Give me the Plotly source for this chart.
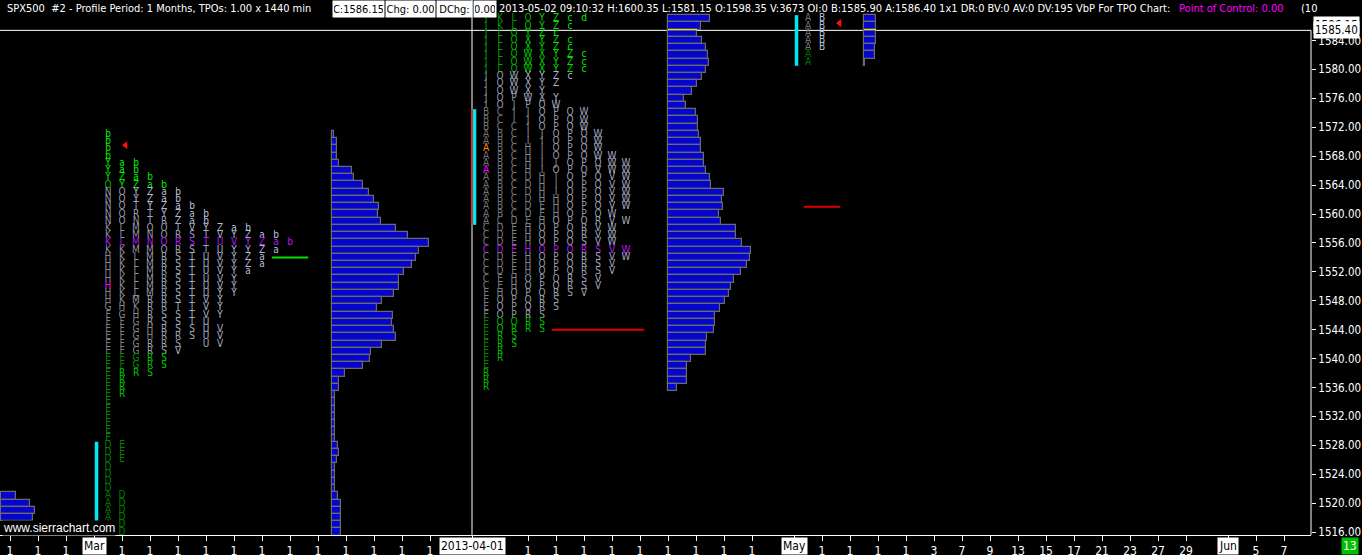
import plotly.graph_objects as go

# ------------------------------------------------------------------ data
LETTERS = "ABCDEFGHIJKLMNOPQRSTUVWXYZabcd"

# March 2013 profile: TPO columns (top row = mar_top, one char per 1.00 price row)
mar_top = 1571
mar_cols = [
    "bbbbYYYONNNNNKKKKHHHHHHHGFF" "EEEEEEEEEEEEEEEE" "DDDDDDD" "AAAAAA",
    "    aaZYOOOOOLLLKKKKKKKKHGFFFFFFFRRRR      EEE    DDDDDD",
    "    bbaZYYTRNMMMMLLLLLLMKHGGGGGGGR",
    "      baZZYTTONNMMMMMMMRRRRHHRRRRS",
    "       baaZYROOOORRRRRRRRSSRRRSSS",
    "        bbaZZTRRRSSSSSSSTSSSRSV",
    "          baaVSSSTTTTTTTTTTSS",
    "           bbYTTTUUUUUUVVVUUUU",
    "             ZVUUVVVVVYYYY VVV",
    "             aYVYYYYYYY",
    "             bZYYZZa",
    "              aZZaa",
    "              baa",
    "               b",
]
mar_va = (1541, 1563)
mar_poc = 1556
mar_ib = (1518, 1528)
mar_ref = 1554
mar_arrow = 1569.5
mar_marks = [(1550, 0, "#ff00ff")]
mar_vp = [2, 5, 5, 5, 7, 20, 22, 31, 37, 42, 47, 46, 49, 64, 76, 97, 87, 84, 80, 72,
          67, 67, 62, 50, 45, 61, 60, 62, 64, 50, 39, 38, 31, 13, 7, 7, 3, 3, 3, 3,
          3, 3, 3, 6, 7, 5, 3, 3, 3, 3, 6, 9, 9, 9, 9, 9]

# April 2013 profile: TPO rows (top row = apr_top)
apr_top = 1587
apr_rows = [
    "JKLOYZcd", "JKLOYZc", "JLOYZc", "JLOXYZc", "JLOXYZc", "JLOWXYZc", "JLOWXYZc",
    "JLOWXYZc", "JOWXYZc", "JOWXYZ", "JOWXY", "JOPWXY", "IOJPQW", "BCIJOPQW",
    "BCIJOPQW", "BCCIOPQW", "ABCIJOPQW", "ABCIIOPQW", "ABCHIOPQW", "ABCHIOPQWW",
    "ABCHIJOPQWW", "ABCHIOPQVWW", "ABCDHIOPQVW", "ABCDHIOPQVW", "ABCDHIOPQVW",
    "ABCDHHOPQVW", "ABCDEHOPQVW", "ABCDEHOPQW", "ACDEHOPQRVW", "CDEHOPQRVW",
    "CDEHOPQRVW", "CDEHOPQSVW", "CDEHOPQRSVW", "CDEHOPQRSVW", "CDEHOPQRSV",
    "CDEHOPQRSV", "CEHOPQRSV", "CEHOPQRSV", "EHOPQRSV", "EOPQRS", "EOPQRS",
    "EOPRS", "EOQRS", "EQRRS", "ERS", "ERS", "ER", "ER", "E", "R", "R", "R",
]
apr_va = (1546, 1579)
apr_poc = 1555
apr_ib = (1559, 1574)
apr_ref = 1544
apr_marks = [(1569, 0, "#ff8c00"), (1566, 0, "#ff00ff")]
apr_vp = [42, 33, 29, 34, 38, 40, 41, 38, 34, 29, 24, 16, 18, 28, 30, 30, 31, 33, 33, 36,
          36, 38, 42, 43, 56, 54, 55, 51, 53, 68, 68, 74, 83, 82, 79, 73, 66, 63, 61, 57,
          52, 47, 47, 46, 39, 38, 38, 23, 19, 19, 19, 9]

# May 2013 profile
may_top = 1587
may_cols = ["AAAAAAA", "BBBBB"]
may_va = (1583, 1587)
may_poc = None
may_ib = (1581, 1587)
may_ref = 1561
may_arrow = 1586.4
may_vp = [12, 12, 12, 12, 11, 11, 1]

# February tail of volume profile
feb_top = 1521
feb_vp = [15, 29, 34, 32]

last_price = 1585.40
close_price = 1586.15

# bar-slot index where each monthly profile starts
mar_start, apr_start, may_start = 7, 34, 57

x_tick_slots = [1, 3, 5, 7, 9, 11, 13, 15, 17, 19, 21, 23, 25, 27, 29, 31, 34, 38, 40, 42,
                44, 46, 48, 50, 52, 54, 57, 59, 61, 63, 65, 67, 69, 71, 73, 75, 77, 79, 81,
                83, 85, 88, 90, 92]
x_tick_labels = ["1", "1", "1", "Mar", "1", "1", "1", "1", "1", "1", "1", "1", "1", "1",
                 "1", "1", "2013-04-01", "1", "1", "1", "1", "1", "1", "1", "1", "1", "May",
                 "1", "1", "1", "1", "3", "7", "9", "13", "15", "17", "21", "23", "27", "29",
                 "Jun", "5", "7"]
boxed_labels = {"Mar", "2013-04-01", "May", "Jun"}
y_ticks = list(range(1516, 1585, 4))

header_parts = [
    ("SPX500\u00a0 #2 - Profile Period: 1 Months, TPOs: 1.00 x 1440 min", None),
    ("C:1586.15", "box"), ("Chg: 0.00", "box"), ("DChg:", "box"), ("0.00", "box"),
    ("2013-05-02 09:10:32 H:1600.35 L:1581.15 O:1598.35 V:3673 OI:0 B:1585.90 "
     "A:1586.40 1x1 DR:0 BV:0 AV:0 DV:195 VbP For TPO Chart:", None),
    ("Point of Control: 0.00", "poc"), ("(10", None),
]

# ------------------------------------------------------------------ style
W, H = 1362, 555
PW, PH = 1311, 535
PX_PER_SLOT = 14
VOL_PER_SLOT = 14.0
X0 = 0.2857
XR = [X0, X0 + PW / PX_PER_SLOT]
YR = [1515.60, 1589.60]
COND = "DejaVu Sans Condensed, Liberation Sans Narrow, sans-serif"
BLUE = "#0505cc"
POC_COL = "#b01cf0"


def mix(a, b, t):
    ca = [int(a[i:i + 2], 16) for i in (1, 3, 5)]
    cb = [int(b[i:i + 2], 16) for i in (1, 3, 5)]
    return "#" + "".join("%02x" % int(round(x + (y - x) * t)) for x, y in zip(ca, cb))


def rows_to_cols(rows):
    n = max(len(r) for r in rows)
    return ["".join(r[j] if j < len(r) else " " for r in rows) for j in range(n)]


def tpo(cols, top, start, va, poc, marks):
    used = [c for col in cols for c in col if c != " "]
    last = max(LETTERS.index(c) for c in used) or 1
    xs, ys, ts, cs = [], [], [], []
    mk = {(p, j): c for p, j, c in marks}
    for j, col in enumerate(cols):
        for i, ch in enumerate(col):
            if ch == " ":
                continue
            p = top - i
            t = LETTERS.index(ch) / last
            if (p, j) in mk:
                c = mk[(p, j)]
            elif poc is not None and p == poc:
                c = POC_COL
            elif p > va[1] or p < va[0]:
                c = mix("#007000", "#00f000", t)
            else:
                c = mix("#727272", "#b8c0dc", t)
            xs.append(start + 1 + j)
            ys.append(p)
            ts.append(ch)
            cs.append(c)
    return xs, ys, ts, cs


def count_at(cols, top, price):
    i = top - price
    return sum(1 for col in cols if 0 <= i < len(col) and col[i] != " ")


apr_cols = rows_to_cols(apr_rows)
profiles = [
    dict(cols=mar_cols, top=mar_top, start=mar_start, va=mar_va, poc=mar_poc, marks=mar_marks,
         vp=mar_vp, ib=mar_ib, ref=mar_ref, refc="#00e000", arrow=mar_arrow, red_ib=False),
    dict(cols=apr_cols, top=apr_top, start=apr_start, va=apr_va, poc=apr_poc, marks=apr_marks,
         vp=apr_vp, ib=apr_ib, ref=apr_ref, refc="#e00000", arrow=None, red_ib=True),
    dict(cols=may_cols, top=may_top, start=may_start, va=may_va, poc=may_poc, marks=[],
         vp=may_vp, ib=may_ib, ref=may_ref, refc="#e00000", arrow=may_arrow, red_ib=False),
]

fig = go.Figure()
shapes = []
annotations = []

# price line and y-axis line
shapes.append(dict(type="line", xref="paper", x0=0, x1=1, yref="y", y0=last_price, y1=last_price,
                   line=dict(color="white", width=1), layer="below"))
shapes.append(dict(type="line", xref="paper", x0=1, x1=1, yref="y", y0=YR[0], y1=last_price,
                   line=dict(color="white", width=1)))
shapes.append(dict(type="line", xref="x", x0=apr_start, x1=apr_start, yref="paper", y0=0, y1=1,
                   line=dict(color="white", width=1), layer="below"))

# Feb tail volume profile
fig.add_trace(go.Bar(y=[feb_top - i for i in range(len(feb_vp))],
                     x=[v / VOL_PER_SLOT for v in feb_vp], base=XR[0] + 0.1, orientation="h",
                     width=1, marker=dict(color=BLUE, line=dict(color="#6a6a6a", width=1.2)),
                     hoverinfo="skip", showlegend=False))

ax, ay = [], []
for pr in profiles:
    xs, ys, ts, cs = tpo(pr["cols"], pr["top"], pr["start"], pr["va"], pr["poc"], pr["marks"])
    fig.add_trace(go.Scatter(x=xs, y=ys, text=ts, mode="text",
                             textfont=dict(family=COND, size=10, color=cs),
                             hoverinfo="skip", showlegend=False))
    base = pr["start"] + 1 + len(pr["cols"]) + 2
    prices = [pr["top"] - i for i in range(len(pr["vp"]))]
    fig.add_trace(go.Bar(y=prices, x=[v / VOL_PER_SLOT for v in pr["vp"]], base=base,
                         orientation="h", width=1,
                         marker=dict(color=BLUE, line=dict(color="#6a6a6a", width=1.2)),
                         hoverinfo="skip", showlegend=False))
    # current price row marker on the volume bar
    cur = int(round(last_price))
    if cur in prices:
        v = pr["vp"][prices.index(cur)]
        shapes.append(dict(type="line", xref="x", yref="y", x0=base, x1=base + v / VOL_PER_SLOT,
                           y0=cur + 0.5, y1=cur + 0.5, line=dict(color="#e8e800", width=1.5)))
    # initial balance bar
    ibx = pr["start"] + 0.18
    shapes.append(dict(type="line", xref="x", yref="y", x0=ibx, x1=ibx,
                       y0=pr["ib"][0] - 0.5, y1=pr["ib"][1] + 0.5,
                       line=dict(color="#00e8f0", width=3.5)))
    if pr["red_ib"]:
        shapes.append(dict(type="line", xref="x", yref="y", x0=pr["start"], x1=pr["start"],
                           y0=pr["ib"][0] - 0.5, y1=pr["ib"][1] + 0.5,
                           line=dict(color="#ff1010", width=1.5)))
    # reference line
    n = count_at(pr["cols"], pr["top"], pr["ref"])
    shapes.append(dict(type="line", xref="x", yref="y", x0=pr["start"] + 1 + n - 0.3,
                       x1=base - 1.7, y0=pr["ref"], y1=pr["ref"],
                       line=dict(color=pr["refc"], width=2)))
    if pr["arrow"] is not None:
        n = count_at(pr["cols"], pr["top"], int(round(pr["arrow"])))
        ax.append(pr["start"] + 1 + n + 0.25)
        ay.append(pr["arrow"])

fig.add_trace(go.Scatter(x=ax, y=ay, mode="markers",
                         marker=dict(symbol="triangle-left", size=7, color="#ff1010"),
                         hoverinfo="skip", showlegend=False))

# header (left edge px, box width px)
hx = [5, 332, 385, 436, 473, 497, 1177, 1299]
hw = [None, 49, 47, 33, 20, None, None, None]
hy = 1 - 9 / PH
for (txt, kind), x, w in zip(header_parts, hx, hw):
    a = dict(text=txt, xref="paper", yref="paper", x=x / PW, y=hy, xanchor="left",
             yanchor="middle", showarrow=False, borderpad=1,
             font=dict(family=COND, size=11, color="white"))
    if kind == "box":
        a.update(bgcolor="white", width=w, height=14, align="center")
        a["font"]["color"] = "black"
    elif kind == "poc":
        a["font"]["color"] = "#ff00ff"
    annotations.append(a)

# price labels on the right axis
for p in (close_price, last_price):
    annotations.append(dict(text="%.2f" % p, xref="paper", yref="y", x=1, xshift=2, y=p,
                            xanchor="left", yanchor="middle", showarrow=False, bgcolor="white",
                            borderpad=1, font=dict(family=COND, size=11.5, color="black")))

# boxed x labels
for s, lab in zip(x_tick_slots, x_tick_labels):
    if lab in boxed_labels:
        annotations.append(dict(text=lab, xref="x", yref="paper", x=s, y=0, yshift=-2,
                                xanchor="center", yanchor="top", showarrow=False,
                                bgcolor="white", borderpad=1,
                                font=dict(family=COND, size=12, color="black")))
annotations.append(dict(text="13", xref="paper", yref="paper", x=1350 / PW, y=0, yshift=-2,
                        xanchor="center", yanchor="top", showarrow=False, bgcolor="#00c000",
                        borderpad=1, font=dict(family=COND, size=12, color="white")))
annotations.append(dict(text="www.sierrachart.com", xref="paper", yref="paper", x=2 / PW,
                        y=1 - 528 / PH, xanchor="left", yanchor="middle", showarrow=False,
                        bgcolor="black", borderpad=0,
                        font=dict(family="Liberation Sans, Arial, sans-serif", size=12,
                                  color="white")))

fig.update_layout(
    template="none",
    width=W, height=H, margin=dict(l=0, r=W - PW, t=0, b=H - PH, autoexpand=False),
    paper_bgcolor="black", plot_bgcolor="black", barmode="overlay", bargap=0,
    showlegend=False, shapes=shapes, annotations=annotations,
    xaxis=dict(range=XR, showgrid=False, zeroline=False, showline=True, linecolor="white",
               linewidth=1, ticks="outside", ticklen=5, tickcolor="white", automargin=False,
               tickvals=x_tick_slots,
               ticktext=["" if t in boxed_labels else t for t in x_tick_labels],
               tickfont=dict(family=COND, size=12, color="white")),
    yaxis=dict(range=YR, side="right", showgrid=False, zeroline=False, showline=False,
               ticks="outside", ticklen=4, tickcolor="white", automargin=False,
               tickvals=y_ticks, ticktext=["%.2f" % v for v in y_ticks],
               tickfont=dict(family=COND, size=11.5, color="white")),
)

fig.write_html("out.html", config={"displayModeBar": False},
               post_script="document.body.style.margin='0';"
               "document.body.style.background='black';")
